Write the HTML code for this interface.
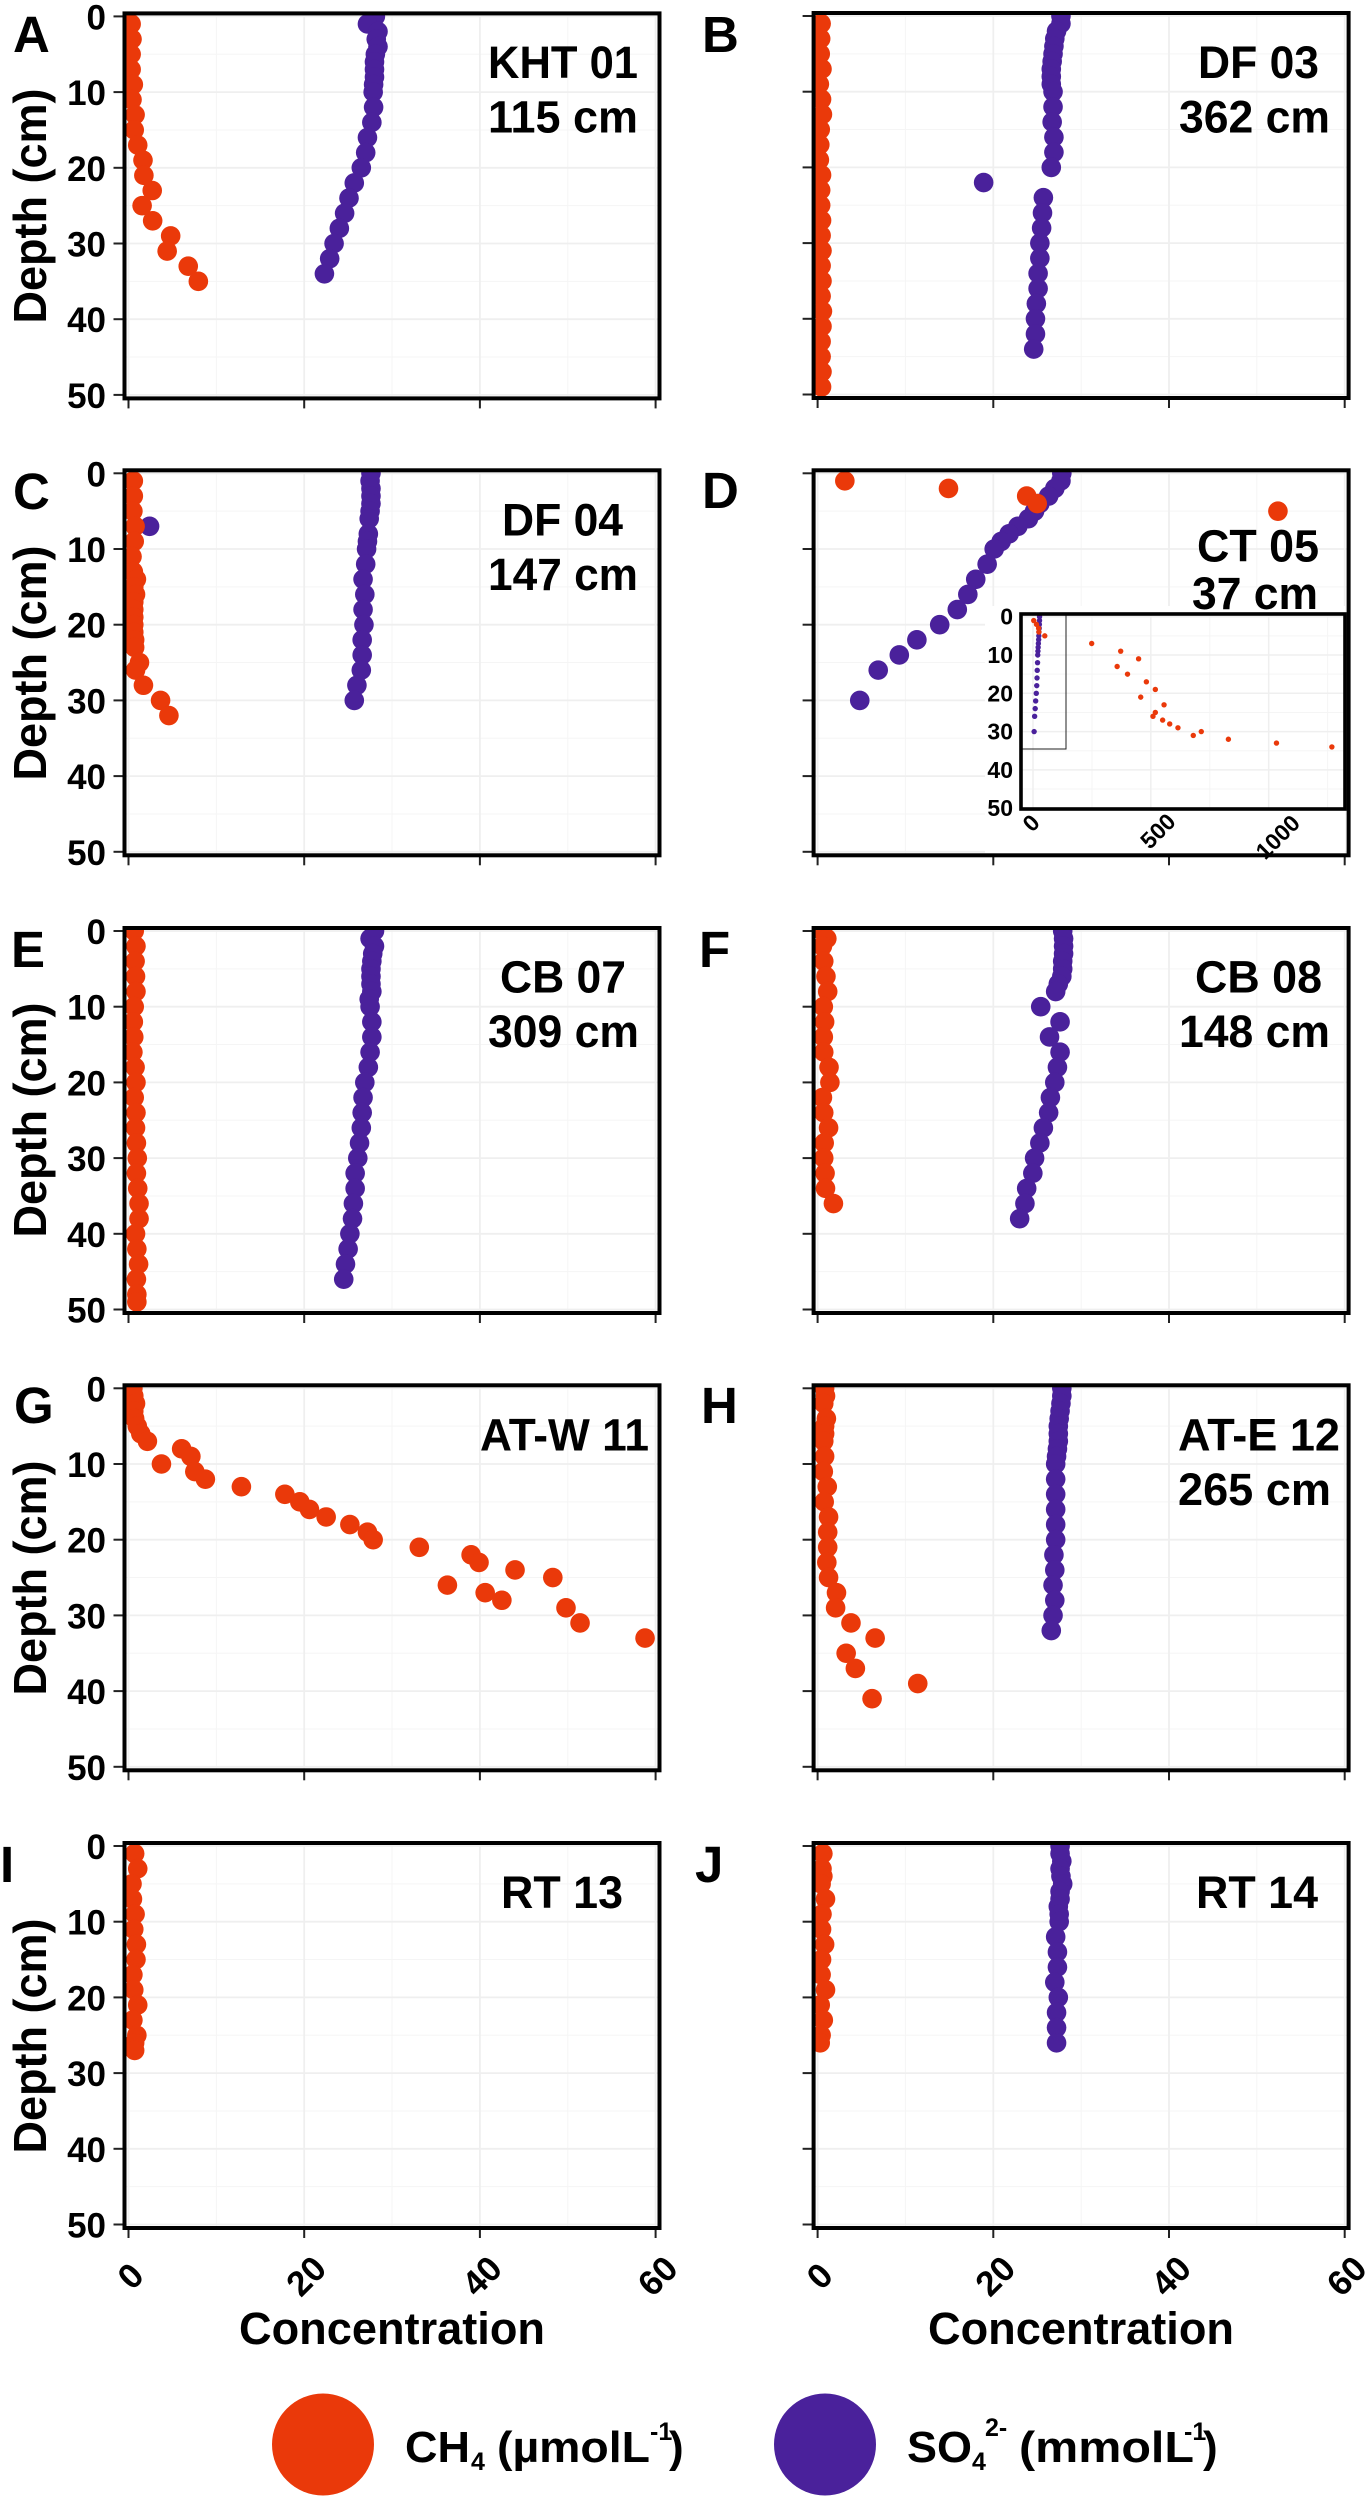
<!DOCTYPE html>
<html lang="en">
<head>
<meta charset="utf-8">
<title>Porewater CH4 and SO4 depth profiles</title>
<style>
html,body{margin:0;padding:0;background:#fff;}
svg{display:block;}
text{font-family:"Liberation Sans",sans-serif;font-weight:bold;fill:#000;}
</style>
</head>
<body>
<svg id="chart" xmlns="http://www.w3.org/2000/svg" width="1367" height="2500" viewBox="0 0 1367 2500">
<rect x="0" y="0" width="1367" height="2500" fill="#fff"/>
<defs id="clips"></defs>
<g id="plots"></g>
<g font-size="51">
<text x="13" y="52">A</text>
<text x="702" y="52">B</text>
<text x="13" y="509">C</text>
<text x="702" y="508">D</text>
<text x="11" y="967">E</text>
<text x="699" y="967">F</text>
<text x="14" y="1423">G</text>
<text x="701" y="1423">H</text>
<text x="0" y="1882">I</text>
<text x="695" y="1882">J</text>
</g>
<g font-size="45">
<text x="488" y="78" textLength="150" lengthAdjust="spacingAndGlyphs">KHT 01</text>
<text x="488" y="132.7" textLength="150" lengthAdjust="spacingAndGlyphs">115 cm</text>
<text x="1198" y="78" textLength="121" lengthAdjust="spacingAndGlyphs">DF 03</text>
<text x="1179" y="132.7" textLength="151" lengthAdjust="spacingAndGlyphs">362 cm</text>
<text x="502" y="535.7" textLength="121" lengthAdjust="spacingAndGlyphs">DF 04</text>
<text x="488" y="590" textLength="150" lengthAdjust="spacingAndGlyphs">147 cm</text>
<text x="1197" y="561.7" textLength="122" lengthAdjust="spacingAndGlyphs">CT 05</text>
<text x="1192" y="609" textLength="126" lengthAdjust="spacingAndGlyphs">37 cm</text>
<text x="500" y="992.7" textLength="126" lengthAdjust="spacingAndGlyphs">CB 07</text>
<text x="488" y="1047" textLength="151" lengthAdjust="spacingAndGlyphs">309 cm</text>
<text x="1195" y="992.7" textLength="127" lengthAdjust="spacingAndGlyphs">CB 08</text>
<text x="1179" y="1047" textLength="151" lengthAdjust="spacingAndGlyphs">148 cm</text>
<text x="480" y="1450.7" textLength="169" lengthAdjust="spacingAndGlyphs">AT-W 11</text>
<text x="1178" y="1450.7" textLength="162" lengthAdjust="spacingAndGlyphs">AT-E 12</text>
<text x="1178" y="1505" textLength="153" lengthAdjust="spacingAndGlyphs">265 cm</text>
<text x="501" y="1908" textLength="122" lengthAdjust="spacingAndGlyphs">RT 13</text>
<text x="1196" y="1908" textLength="122" lengthAdjust="spacingAndGlyphs">RT 14</text>
</g>
<g font-size="46">
<text text-anchor="middle" transform="translate(46 206) rotate(-90)" textLength="235" lengthAdjust="spacingAndGlyphs">Depth (cm)</text>
<text text-anchor="middle" transform="translate(46 663) rotate(-90)" textLength="235" lengthAdjust="spacingAndGlyphs">Depth (cm)</text>
<text text-anchor="middle" transform="translate(46 1120) rotate(-90)" textLength="235" lengthAdjust="spacingAndGlyphs">Depth (cm)</text>
<text text-anchor="middle" transform="translate(46 1578) rotate(-90)" textLength="235" lengthAdjust="spacingAndGlyphs">Depth (cm)</text>
<text text-anchor="middle" transform="translate(46 2036) rotate(-90)" textLength="235" lengthAdjust="spacingAndGlyphs">Depth (cm)</text>
</g>
<text x="392" y="2344" font-size="45" text-anchor="middle" textLength="306" lengthAdjust="spacingAndGlyphs">Concentration</text>
<text x="1081" y="2344" font-size="45" text-anchor="middle" textLength="306" lengthAdjust="spacingAndGlyphs">Concentration</text>
<g>
<circle cx="323" cy="2444.5" r="51" fill="#ea390a"/>
<g>
<text x="405" y="2462" font-size="44" textLength="65" lengthAdjust="spacingAndGlyphs">CH</text>
<text x="471" y="2470" font-size="25">4</text>
<text x="497" y="2462" font-size="44" textLength="153" lengthAdjust="spacingAndGlyphs">(µmolL</text>
<text x="650" y="2440" font-size="25">-1</text>
<text x="669" y="2462" font-size="44">)</text>
</g>
<circle cx="825" cy="2444.5" r="51" fill="#4a219b"/>
<g>
<text x="907" y="2462" font-size="44" textLength="65" lengthAdjust="spacingAndGlyphs">SO</text>
<text x="972" y="2470" font-size="25">4</text>
<text x="985" y="2436" font-size="25">2-</text>
<text x="1019" y="2462" font-size="44" textLength="175" lengthAdjust="spacingAndGlyphs">(mmolL</text>
<text x="1184" y="2440" font-size="25">-1</text>
<text x="1203" y="2462" font-size="44">)</text>
</g>
</g>
</svg>
<script>
// ---- axis labels ----
const depthTicks = [0, 10, 20, 30, 40, 50];
const depthMinorTicks = [5, 15, 25, 35, 45];
const concTicks = [0, 20, 40, 60];
const concMinorTicks = [10, 30, 50];
const insetConcTicks = [0, 500, 1000];
const insetConcMinorTicks = [250, 750, 1250];

// ---- panel A: KHT 01 ----
const depthA_CH4 = [1,3,5,7,9,11,13,15,17,19,21,23,25,27,29,31,33,35];
const valuesA_CH4 = [0.3,0.4,0.3,0.3,0.55,0.4,0.75,0.65,1.05,1.65,1.75,2.7,1.55,2.75,4.8,4.4,6.8,7.95];
const depthA_SO4 = [0,1,2,3,4,5,6,7,8,9,10,12,14,16,18,20,22,24,26,28,30,32,34];
const valuesA_SO4 = [28.1,27.2,28.4,28.2,28.4,28.1,28,28,28,27.9,27.85,27.9,27.7,27.2,27,26.5,25.7,25.1,24.6,24,23.4,22.9,22.3];

// ---- panel B: DF 03 ----
const depthB_CH4 = [1,3,5,7,9,11,13,15,17,19,21,23,25,27,29,31,33,35,37,39,41,43,45,47,49];
const valuesB_CH4 = [0.4,0.35,0.3,0.5,0.2,0.45,0.55,0.3,0.25,0.2,0.45,0.35,0.35,0.45,0.4,0.5,0.4,0.5,0.4,0.55,0.5,0.4,0.4,0.5,0.45];
const depthB_SO4 = [0,1,2,3,4,5,6,7,8,9,10,12,14,16,18,20,22,24,26,28,30,32,34,36,38,40,42,44];
const valuesB_SO4 = [27.7,27.7,27.2,27,26.9,26.8,26.7,26.6,26.6,26.6,26.8,26.8,26.7,26.9,26.9,26.6,18.9,25.7,25.6,25.5,25.3,25.3,25.1,25.1,24.9,24.8,24.8,24.6];

// ---- panel C: DF 04 ----
const depthC_CH4 = [1,3,5,7,9,11,13,14,15,16,17,18,19,20,21,22,23,25,26,28,30,32];
const valuesC_CH4 = [0.55,0.55,0.5,0.75,0.65,0.4,0.55,0.9,0.6,0.8,0.6,0.6,0.6,0.6,0.6,0.7,0.7,1.25,0.8,1.7,3.65,4.6];
const depthC_SO4 = [0,1,2,3,4,5,6,7,8,9,10,12,14,16,18,20,22,24,26,28,30];
const valuesC_SO4 = [27.6,27.5,27.6,27.6,27.6,27.5,27.4,2.4,27.3,27.2,27.1,27,26.7,26.9,26.7,26.8,26.6,26.6,26.5,26,25.7];

// ---- panel D: CT 05 (main view) ----
const depthD_CH4 = [1,2,3,4,5];
const valuesD_CH4 = [3.1,14.9,23.8,25,52.4];
const depthD_SO4 = [0,1,2,3,4,5,6,7,8,9,10,12,14,16,18,20,22,24,26,30];
const valuesD_SO4 = [27.8,27.7,27,26.3,25.3,24.7,24,22.8,21.8,20.9,20.1,19.3,18,17.1,15.9,13.9,11.3,9.3,6.9,4.8];

// ---- panel D inset: full methane range ----
const depthInset_CH4 = [1,2,3,4,5,7,9,11,13,15,17,19,21,23,25,26,27,28,29,30,31,32,33,34];
const valuesInset_CH4 = [3.1,14.9,23.8,25,50,249,372,448,357,401,481,519,457,556,519,509,550,580,615,714,680,829,1033,1268];

// ---- panel E: CB 07 ----
const depthE_CH4 = [0,2,4,6,8,10,12,14,16,18,20,22,24,26,28,30,32,34,36,38,40,42,44,46,48,49];
const valuesE_CH4 = [0.65,0.85,0.75,0.8,0.85,0.65,0.55,0.6,0.5,0.75,0.85,0.65,0.85,0.8,0.9,1,0.9,1.05,1.2,1.2,0.8,0.95,1.15,0.9,0.95,0.95];
const depthE_SO4 = [0,1,2,3,4,5,6,7,8,9,10,12,14,16,18,20,22,24,26,28,30,32,34,36,38,40,42,44,46];
const valuesE_SO4 = [28,27.5,28,27.8,27.7,27.6,27.6,27.6,27.7,27.4,27.5,27.7,27.7,27.5,27.3,26.9,26.7,26.6,26.5,26.3,26.1,25.8,25.8,25.6,25.5,25.2,25,24.7,24.5];

// ---- panel F: CB 08 ----
const depthF_CH4 = [0,1,2,4,6,8,10,12,14,16,18,20,22,24,26,28,30,32,34,36];
const valuesF_CH4 = [0.55,1.05,0.55,0.7,0.95,1.15,0.65,0.8,0.65,0.7,1.3,1.4,0.55,0.7,1.25,0.75,0.7,0.85,0.9,1.8];
const depthF_SO4 = [0,1,2,3,4,5,6,7,8,10,12,14,16,18,20,22,24,26,28,30,32,34,36,38];
const valuesF_SO4 = [27.9,28,28,28,27.9,27.9,27.8,27.4,27.1,25.4,27.6,26.4,27.6,27.3,27,26.5,26.3,25.7,25.3,24.7,24.5,23.8,23.6,23];

// ---- panel G: AT-W 11 ----
const depthG_CH4 = [0,1,2,3,4,5,6,7,8,9,10,11,12,13,14,15,16,17,18,19,20,21,22,23,24,25,26,27,28,29,31,33];
const valuesG_CH4 = [0.5,0.6,0.8,0.6,0.7,1,1.4,2.15,6.05,7.1,3.75,7.55,8.75,12.85,17.8,19.5,20.6,22.5,25.2,27.2,27.85,33.1,39,39.9,44,48.3,36.3,40.6,42.5,49.8,51.4,58.8];

// ---- panel H: AT-E 12 ----
const depthH_CH4 = [0,1,2,4,5,6,7,9,11,13,15,17,19,21,23,25,27,29,31,33,35,37,39,41];
const valuesH_CH4 = [0.8,0.9,0.7,1,0.8,0.8,0.7,0.8,0.65,1.1,0.75,1.25,1.15,1.15,1.05,1.25,2.15,2.05,3.8,6.55,3.25,4.3,11.4,6.2];
const depthH_SO4 = [0,1,2,3,4,5,6,7,8,9,10,12,14,16,18,20,22,24,26,28,30,32];
const valuesH_SO4 = [27.8,27.8,27.7,27.6,27.5,27.4,27.4,27.4,27.3,27.2,27.1,27.1,27.1,27.1,27.1,27.1,26.9,27,26.8,27,26.8,26.6];

// ---- panel I: RT 13 ----
const depthI_CH4 = [1,3,5,7,9,11,13,15,17,19,21,23,25,26,27];
const valuesI_CH4 = [0.7,1.05,0.4,0.45,0.75,0.6,0.9,0.85,0.5,0.6,1.05,0.5,0.95,0.7,0.7];

// ---- panel J: RT 14 ----
const depthJ_CH4 = [1,3,4,5,7,9,11,13,15,17,19,21,23,25,26];
const valuesJ_CH4 = [0.6,0.5,0.6,0.4,0.9,0.5,0.45,0.8,0.45,0.4,0.9,0.3,0.65,0.4,0.3];
const depthJ_SO4 = [0,1,2,3,4,5,6,7,8,9,10,12,14,16,18,20,22,24,26];
const valuesJ_SO4 = [27.6,27.6,27.8,27.6,27.7,27.9,27.6,27.6,27.4,27.5,27.5,27.1,27.3,27.3,27,27.4,27.2,27.2,27.2];

const ORANGE = '#ea390a';
const PURPLE = '#4a219b';
const SVGNS = 'http://www.w3.org/2000/svg';
const plots = document.getElementById('plots');
const clips = document.getElementById('clips');
const PX_PER_CONC = 8.785;
const PX_PER_DEPTH = 7.57;
const GRID_MAJOR = '#efefef';
const GRID_MINOR = '#f5f5f5';

function make(parent, tag, attrs) {
  const el = document.createElementNS(SVGNS, tag);
  for (const k in attrs) el.setAttribute(k, attrs[k]);
  parent.appendChild(el);
  return el;
}

function drawGrid(parent, xs, ys, sx, sy, box, color, width) {
  xs.forEach(function (v) {
    const el = make(parent, 'line', { x1: sx(v), x2: sx(v), y1: box.top, y2: box.bottom, stroke: color, 'stroke-width': width });
    
    
  });
  ys.forEach(function (v) {
    const el = make(parent, 'line', { x1: box.left, x2: box.right, y1: sy(v), y2: sy(v), stroke: color, 'stroke-width': width });
    
    
  });
}

function drawDots(parent, depths, values, sx, sy, color, r, name) {
  depths.forEach(function (d, i) {
    const el = make(parent, 'circle', { cx: sx(values[i]), cy: sy(d), r: r, fill: color });
    
    
  });
}

function drawFrame(parent, box, width) {
  const el = make(parent, 'rect', { x: box.left, y: box.top, width: box.right - box.left, height: box.bottom - box.top, fill: 'none', stroke: '#000', 'stroke-width': width });
  
  
}

function drawInset(parent) {
  const box = { left: 1021, right: 1345, top: 614, bottom: 809 };
  const sx = function (v) { return 1033 + v * 0.2357; };
  const sy = function (v) { return 616.7 + v * 3.83; };
  const g = make(parent, 'g', {});
  
  
  const cover = make(g, 'rect', { x: 985, y: 606, width: 360, height: 248, fill: '#fff' });
  
  
  drawGrid(g, insetConcMinorTicks, depthMinorTicks, sx, sy, box, GRID_MINOR, 1);
  drawGrid(g, insetConcTicks, depthTicks, sx, sy, box, GRID_MAJOR, 1.5);
  const zoomBox = make(g, 'rect', { x: 1021, y: 614, width: 45, height: 135, fill: 'none', stroke: '#222', 'stroke-width': 1 });
  
  
  drawDots(g, depthD_SO4, valuesD_SO4, sx, sy, PURPLE, 2.7, 'inset-so4-point');
  drawDots(g, depthInset_CH4, valuesInset_CH4, sx, sy, ORANGE, 2.7, 'inset-ch4-point');
  drawFrame(g, box, 3.6);
  depthTicks.forEach(function (t) {
    const el = make(g, 'text', { x: 1013, y: sy(t) + 8, 'text-anchor': 'end', 'font-size': 23 });
    el.textContent = String(t);
    
    
  });
  insetConcTicks.forEach(function (t) {
    const tx = sx(t) + (t === 0 ? -2 : 5 + t * 0.004);
    const ty = t === 0 ? 823 : 825 + t * 0.012;
    const el = make(g, 'text', { x: tx, y: ty + 8, 'text-anchor': 'middle', 'font-size': 23, transform: 'rotate(-45 ' + tx + ' ' + ty + ')' });
    el.textContent = String(t);
    
    
  });
}

function drawPanel(p) {
  const sx = function (v) { return p.x0 + v * PX_PER_CONC; };
  const sy = function (v) { return p.y0 + v * PX_PER_DEPTH; };
  const box = { left: p.x0 - 4, right: p.x0 + 531, top: p.y0 - 3, bottom: p.y0 + 382 };
  const g = make(plots, 'g', {});
  
  

  const cp = make(clips, 'clipPath', { id: 'clip-' + p.id });
  make(cp, 'rect', { x: box.left, y: box.top, width: box.right - box.left, height: box.bottom - box.top });

  drawGrid(g, concMinorTicks, depthMinorTicks, sx, sy, box, GRID_MINOR, 1);
  drawGrid(g, concTicks, depthTicks, sx, sy, box, GRID_MAJOR, 1.8);

  const marks = make(g, 'g', { 'clip-path': 'url(#clip-' + p.id + ')' });
  
  
  if (p.so4Depth) drawDots(marks, p.so4Depth, p.so4Values, sx, sy, PURPLE, 9.8, 'so4-point');
  drawDots(marks, p.ch4Depth, p.ch4Values, sx, sy, ORANGE, 9.8, 'ch4-point');

  if (p.inset) drawInset(g);

  depthTicks.forEach(function (t) {
    const el = make(g, 'line', { x1: box.left - 11, x2: box.left, y1: sy(t), y2: sy(t), stroke: '#222', 'stroke-width': 2 });
    
    
    if (p.yLabels) {
      const lab = make(g, 'text', { x: 106, y: sy(t) + 13, 'text-anchor': 'end', 'font-size': 35 });
      lab.textContent = String(t);
      
      
    }
  });
  concTicks.forEach(function (t) {
    const el = make(g, 'line', { x1: sx(t), x2: sx(t), y1: box.bottom, y2: box.bottom + 10, stroke: '#222', 'stroke-width': 2 });
    
    
    if (p.xLabels) {
      const cx = sx(t) + 2;
      const cy = 2276;
      const lab = make(g, 'text', { x: cx, y: cy + 12, 'text-anchor': 'middle', 'font-size': 35, transform: 'rotate(-45 ' + cx + ' ' + cy + ')' });
      lab.textContent = String(t);
      
      
    }
  });
  drawFrame(g, box, 4);
}

drawPanel({ id: 'a', x0: 128.5, y0: 16.4, yLabels: true, ch4Depth: depthA_CH4, ch4Values: valuesA_CH4, so4Depth: depthA_SO4, so4Values: valuesA_SO4 });
drawPanel({ id: 'b', x0: 817.6, y0: 16.0, ch4Depth: depthB_CH4, ch4Values: valuesB_CH4, so4Depth: depthB_SO4, so4Values: valuesB_SO4 });
drawPanel({ id: 'c', x0: 128.5, y0: 473.3, yLabels: true, ch4Depth: depthC_CH4, ch4Values: valuesC_CH4, so4Depth: depthC_SO4, so4Values: valuesC_SO4 });
drawPanel({ id: 'd', x0: 817.6, y0: 473.3, inset: true, ch4Depth: depthD_CH4, ch4Values: valuesD_CH4, so4Depth: depthD_SO4, so4Values: valuesD_SO4 });
drawPanel({ id: 'e', x0: 128.5, y0: 931, yLabels: true, ch4Depth: depthE_CH4, ch4Values: valuesE_CH4, so4Depth: depthE_SO4, so4Values: valuesE_SO4 });
drawPanel({ id: 'f', x0: 817.6, y0: 931, ch4Depth: depthF_CH4, ch4Values: valuesF_CH4, so4Depth: depthF_SO4, so4Values: valuesF_SO4 });
drawPanel({ id: 'g', x0: 128.5, y0: 1388.3, yLabels: true, ch4Depth: depthG_CH4, ch4Values: valuesG_CH4 });
drawPanel({ id: 'h', x0: 817.6, y0: 1388.3, ch4Depth: depthH_CH4, ch4Values: valuesH_CH4, so4Depth: depthH_SO4, so4Values: valuesH_SO4 });
drawPanel({ id: 'i', x0: 128.5, y0: 1846, yLabels: true, xLabels: true, ch4Depth: depthI_CH4, ch4Values: valuesI_CH4 });
drawPanel({ id: 'j', x0: 817.6, y0: 1846, xLabels: true, ch4Depth: depthJ_CH4, ch4Values: valuesJ_CH4, so4Depth: depthJ_SO4, so4Values: valuesJ_SO4 });
</script>
</body>
</html>
